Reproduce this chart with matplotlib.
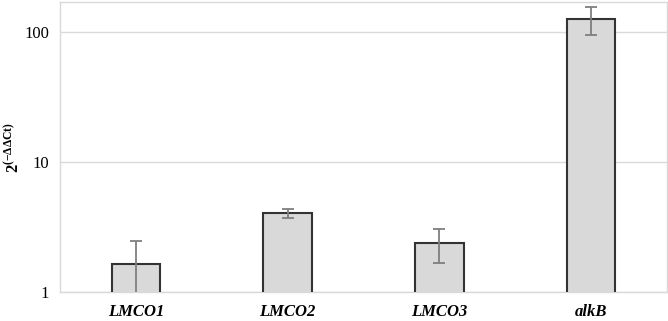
import matplotlib
matplotlib.use("Agg")
import matplotlib.pyplot as plt
import numpy as np

categories = ["LMCO1", "LMCO2", "LMCO3", "alkB"]
values = [1.64, 4.03, 2.37, 125.0]
errors = [0.82, 0.35, 0.70, 30.0]
ytick_vals = [1, 10, 100]
ytick_labels = ["1", "10", "100"]

plt.rcParams['font.family'] = ['Liberation Serif', 'DejaVu Serif']
plt.rcParams['mathtext.fontset'] = 'custom'
plt.rcParams['mathtext.rm'] = 'Liberation Serif'
plt.rcParams['mathtext.bf'] = 'Liberation Serif:bold'
plt.rcParams['mathtext.it'] = 'Liberation Serif:italic'

fig = plt.figure(figsize=(6.68, 3.21), dpi=100)
ax = fig.add_axes([60/668, 1-292/321, 607/668, 290/321])

x = np.arange(len(categories))
ax.bar(x, values, width=0.32, color="#d9d9d9", edgecolor="#333333", linewidth=1.5, zorder=3)
ax.errorbar(x, values, yerr=errors, fmt="none", ecolor="#7f7f7f", elinewidth=1.3,
            capsize=4, capthick=1.3, zorder=4)

ax.set_yscale("log")
ax.set_ylim(1, 170)
ax.set_xlim(-0.5, len(categories) - 0.5)
ax.set_yticks(ytick_vals)
ax.set_yticklabels(ytick_labels, fontsize=12)
ax.yaxis.set_minor_locator(matplotlib.ticker.NullLocator())
ax.set_xticks(x)
ax.set_xticklabels(categories, fontsize=12, fontweight="bold", fontstyle="italic")
ax.tick_params(axis="both", length=0, pad=8)
ax.tick_params(axis="x", pad=9)
ax.grid(axis="y", color="#d9d9d9", linewidth=1, zorder=0)
for s in ax.spines.values():
    s.set_color("#d9d9d9")
    s.set_linewidth(1)

fig.text(13/668, 1-147/321, r"$\mathbf{2^{(-\Delta\Delta Ct)}}$", fontsize=12,
         rotation=90, ha="center", va="center")
fig.savefig("out.png", dpi=100)
